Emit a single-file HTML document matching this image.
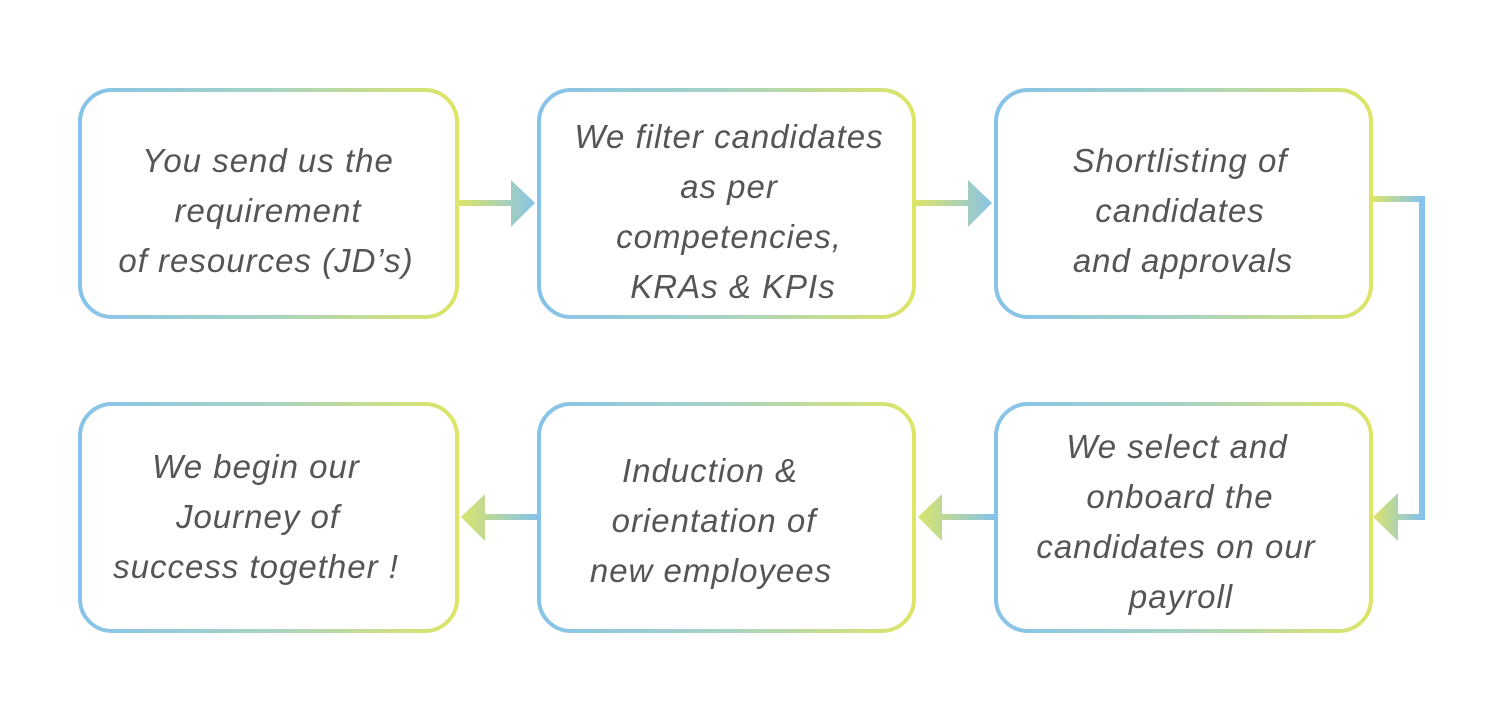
<!DOCTYPE html>
<html><head><style>
html,body{margin:0;padding:0;background:#fff;}
svg{display:block}
text{font-family:"Liberation Sans",sans-serif;font-style:italic;font-size:33px;letter-spacing:1px;fill:#555;text-anchor:middle}
</style></head><body>
<svg width="1500" height="720" viewBox="0 0 1500 720">
<defs>
<linearGradient id="b" x1="0" y1="0" x2="1" y2="0"><stop offset="0" stop-color="#86c3ea"/><stop offset="0.5" stop-color="#a7d3c3"/><stop offset="1" stop-color="#dde566"/></linearGradient>
<linearGradient id="r" gradientUnits="userSpaceOnUse" x1="458" y1="0" x2="535" y2="0"><stop offset="0" stop-color="#dde566"/><stop offset="1" stop-color="#86c3ea"/></linearGradient>
<linearGradient id="r2" gradientUnits="userSpaceOnUse" x1="915" y1="0" x2="993" y2="0"><stop offset="0" stop-color="#dde566"/><stop offset="1" stop-color="#86c3ea"/></linearGradient>
<linearGradient id="r3" gradientUnits="userSpaceOnUse" x1="1372" y1="0" x2="1420" y2="0"><stop offset="0" stop-color="#dde566"/><stop offset="1" stop-color="#86c3ea"/></linearGradient>
<linearGradient id="l1" gradientUnits="userSpaceOnUse" x1="458" y1="0" x2="537" y2="0"><stop offset="0" stop-color="#dde566"/><stop offset="1" stop-color="#86c3ea"/></linearGradient>
<linearGradient id="l2" gradientUnits="userSpaceOnUse" x1="915" y1="0" x2="994" y2="0"><stop offset="0" stop-color="#dde566"/><stop offset="1" stop-color="#86c3ea"/></linearGradient>
</defs>
<g fill="none" stroke="url(#b)" stroke-width="4">
<rect x="80" y="90" width="377" height="227" rx="32"/>
<rect x="539" y="90" width="375" height="227" rx="32"/>
<rect x="996" y="90" width="375" height="227" rx="32"/>
<rect x="80" y="404" width="377" height="227" rx="32"/>
<rect x="539" y="404" width="375" height="227" rx="32"/>
<rect x="996" y="404" width="375" height="227" rx="32"/>
</g>
<path d="M459 200h52v-20l24 23l-24 24v-21h-52z" fill="url(#r)"/>
<path d="M916 200h52v-20l24 23l-24 24v-21h-52z" fill="url(#r2)"/>
<path d="M1373 202h46v312h-21v-21l-25 24l25 24v-21h27v-324h-52z" fill="url(#r3)"/>
<path d="M537 514h-52v-20l-24 23l24 24v-21h52z" fill="url(#l1)"/>
<path d="M994 514h-52v-20l-24 23l24 24v-21h52z" fill="url(#l2)"/>
<text x="268" y="172">You send us the</text>
<text x="268" y="222">requirement</text>
<text x="266" y="272">of resources (JD’s)</text>
<text x="729" y="148">We filter candidates</text>
<text x="729" y="198">as per</text>
<text x="729" y="248">competencies,</text>
<text x="733" y="298">KRAs &amp; KPIs</text>
<text x="1180" y="172">Shortlisting of</text>
<text x="1180" y="222">candidates</text>
<text x="1183" y="272">and approvals</text>
<text x="256" y="478">We begin our</text>
<text x="258" y="528">Journey of</text>
<text x="256" y="578">success together !</text>
<text x="710" y="482">Induction &amp;</text>
<text x="714" y="532">orientation of</text>
<text x="711" y="582">new employees</text>
<text x="1177" y="458">We select and</text>
<text x="1180" y="508">onboard the</text>
<text x="1176" y="558">candidates on our</text>
<text x="1181" y="608">payroll</text>
</svg>
</body></html>
